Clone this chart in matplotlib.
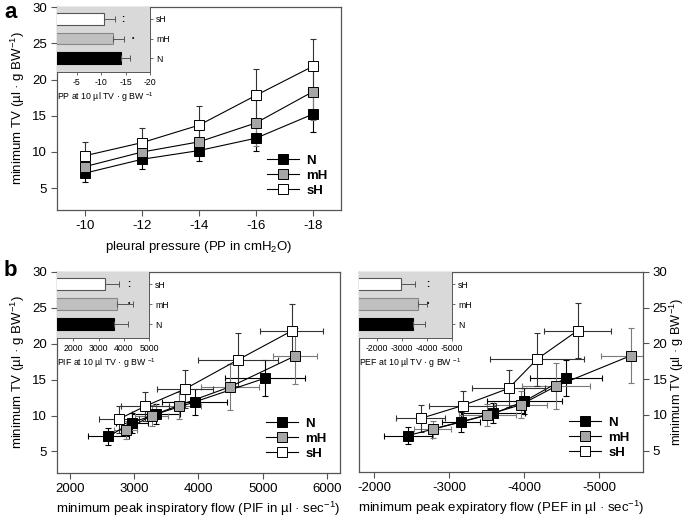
import numpy as np
import matplotlib
matplotlib.use('Agg')
import matplotlib.pyplot as plt
from matplotlib.lines import Line2D

plt.rcParams['font.family'] = ['Liberation Sans', 'DejaVu Sans']
plt.rcParams['axes.unicode_minus'] = False

# ---- data ----
groups = ['N', 'mH', 'sH']
pp = [-10, -12, -14, -16, -18]

tv_N = [7.1, 9.0, 10.2, 11.9, 15.2]
tv_mH = [8.0, 10.0, 11.4, 14.0, 18.3]
tv_sH = [9.5, 11.3, 13.7, 17.8, 21.8]
tv_err_N = [1.2, 1.4, 1.4, 1.8, 2.5]
tv_err_mH = [1.2, 1.5, 1.9, 3.2, 3.9]
tv_err_sH = [1.9, 2.0, 2.6, 3.7, 3.8]

pif_N = [2600, 2960, 3340, 3940, 5030]
pif_mH = [2870, 3270, 3690, 4490, 5500]
pif_sH = [2760, 3170, 3790, 4620, 5450]
pif_err_N = [320, 250, 370, 510, 620]
pif_err_mH = [180, 250, 350, 450, 340]
pif_err_sH = [310, 370, 430, 620, 490]

pef_N = [-2450, -3160, -3590, -4000, -4560]
pef_mH = [-2780, -3510, -3950, -4420, -5420]
pef_sH = [-2620, -3180, -3790, -4170, -4710]
pef_err_N = [320, 250, 420, 500, 480]
pef_err_mH = [250, 380, 350, 450, 400]
pef_err_sH = [330, 450, 480, 620, 450]

# inset bars (N, mH, sH)
pp10 = [-14.0, -12.4, -10.5]
pp10_err = [1.9, 2.2, 2.4]
pif10 = [3620, 3750, 3250]
pif10_err = [550, 620, 565]
pef10 = [-3450, -3630, -2980]
pef10_err = [490, 380, 560]
sig = ['', '*', '**']

face = {'N': 'black', 'mH': '#a6a6a6', 'sH': 'white'}
ecol = {'N': 'black', 'mH': '#7a7a7a', 'sH': '#333333'}
barface = ['black', '#c0c0c0', 'white']
baredge = ['black', '#888888', '#555555']
spine_col = '#555555'

W, H = 685, 517
fig = plt.figure(figsize=(W / 100, H / 100), dpi=100)


def frac(x0, x1, y0, y1):
    return [x0 / W, 1 - y1 / H, (x1 - x0) / W, (y1 - y0) / H]


def style_main(ax):
    for s in ax.spines.values():
        s.set_color(spine_col)
        s.set_linewidth(0.9)
    ax.tick_params(direction='out', length=4, width=0.8, labelsize=9.5, color=spine_col, pad=3)
    ax.set_ylim(2, 30)
    ax.set_yticks([5, 10, 15, 20, 25, 30])


def plot_series(ax, xs, ys, xerrs=None):
    for g, x, y, xe, ye in zip(groups, xs, ys,
                               xerrs if xerrs else [None] * 3,
                               [tv_err_N, tv_err_mH, tv_err_sH]):
        ax.errorbar(x, y, yerr=ye, xerr=xe, fmt='none', ecolor=ecol[g],
                    elinewidth=0.8, capsize=2.5, capthick=0.8, zorder=2)
    for g, x, y in zip(groups, xs, ys):
        ax.plot(x, y, '-', color='black', lw=0.8, marker='s', ms=6.8,
                mfc=face[g], mec='black', mew=0.7, zorder=3)


def legend(ax):
    hs = [Line2D([], [], color='black', lw=0.8, marker='s', ms=6.8,
                 mfc=face[g], mec='black', mew=0.7) for g in groups]
    ax.legend(hs, groups, loc='lower right', frameon=False,
              prop={'weight': 'bold', 'size': 9.5}, handlelength=2.4,
              handletextpad=0.6, labelspacing=0.2, borderaxespad=0.6)


def inset(rect, vals, errs, xlim, xticks, xlabel, star_x):
    ax = fig.add_axes(rect)
    ax.set_facecolor('#d9d9d9')
    ypos = [0, 1, 2]
    ax.barh(ypos, vals, height=0.58, color=barface, edgecolor=baredge, lw=0.8, zorder=2)
    for y, v, e in zip(ypos, vals, errs):
        xe = [[0], [e]] if v > 0 else [[e], [0]]
        ax.errorbar([v], [y], xerr=xe, fmt='none', ecolor='#555555',
                    elinewidth=0.7, capsize=2, capthick=0.7, zorder=3)
    for y, s in zip(ypos, sig):
        if s == '*':
            ax.text(star_x[1], y, '•', ha='center', va='center', fontsize=5)
        elif s == '**':
            ax.text(star_x[0], y, ':', ha='center', va='center', fontsize=7, fontweight='bold')
    ax.set_xlim(*xlim)
    ax.set_ylim(-0.7, 2.6)
    ax.set_xticks(xticks)
    ax.set_yticks(ypos)
    ax.set_yticklabels(groups)
    ax.yaxis.tick_right()
    ax.tick_params(direction='out', length=2.5, width=0.6, labelsize=6.3, color='#555555', pad=2)
    ax.set_xlabel(xlabel, fontsize=6.3, labelpad=2, loc='left')
    for s in ax.spines.values():
        s.set_visible(False)
    for k in ['right', 'bottom']:
        ax.spines[k].set_visible(True)
        ax.spines[k].set_color('#555555')
        ax.spines[k].set_linewidth(0.7)
    return ax


ylab = r'minimum TV (µl · g BW$^{\mathregular{-1}}$)'

# ---- panel a ----
axa = fig.add_axes(frac(57, 341, 7, 210))
style_main(axa)
plot_series(axa, [pp, pp, pp], [tv_N, tv_mH, tv_sH])
axa.set_xlim(-9, -19)
axa.set_xticks(pp)
axa.set_xlabel(r'pleural pressure (PP in cmH$_\mathregular{2}$O)', fontsize=9.5, labelpad=5)
axa.set_ylabel(ylab, fontsize=9.5, labelpad=4)
legend(axa)
inset(frac(57, 150, 7, 72), pp10, pp10_err, (-1, -20), [-5, -10, -15, -20],
      r'PP at 10 µl TV · g BW $^{\mathregular{-1}}$', (-14.5, -16.6))

# ---- panel b left ----
axb = fig.add_axes(frac(57, 340, 272, 473))
style_main(axb)
plot_series(axb, [pif_N, pif_mH, pif_sH], [tv_N, tv_mH, tv_sH],
            [pif_err_N, pif_err_mH, pif_err_sH])
axb.set_xlim(1800, 6200)
axb.set_xticks([2000, 3000, 4000, 5000, 6000])
axb.set_xlabel(r'minimum peak inspiratory flow (PIF in µl · sec$^{\mathregular{-1}}$)', fontsize=9.5, labelpad=4)
axb.set_ylabel(ylab, fontsize=9.5, labelpad=4)
legend(axb)
inset(frac(57, 149, 272, 338), pif10, pif10_err, (1350, 5000), [2000, 3000, 4000, 5000],
      r'PIF at 10 µl TV · g BW $^{\mathregular{-1}}$', (4200, 4200))

# ---- panel b right ----
axc = fig.add_axes(frac(359, 643, 272, 472))
style_main(axc)
plot_series(axc, [pef_N, pef_mH, pef_sH], [tv_N, tv_mH, tv_sH],
            [pef_err_N, pef_err_mH, pef_err_sH])
axc.set_xlim(-1800, -5580)
axc.set_xticks([-2000, -3000, -4000, -5000])
axc.yaxis.tick_right()
axc.yaxis.set_label_position('right')
axc.set_xlabel(r'minimum peak expiratory flow (PEF in µl · sec$^{\mathregular{-1}}$)', fontsize=9.5, labelpad=4)
axc.set_ylabel(ylab, fontsize=9.2, labelpad=0)
legend(axc)
inset(frac(359, 452, 272, 338), pef10, pef10_err, (-1300, -5000), [-2000, -3000, -4000, -5000],
      r'PEF at 10 µl TV · g BW $^{\mathregular{-1}}$', (-4050, -4050))

fig.text(4 / W, 1 - 12 / H, 'a', fontsize=16, fontweight='bold', va='center')
fig.text(4 / W, 1 - 270 / H, 'b', fontsize=16, fontweight='bold', va='center')

fig.savefig('out.png', dpi=100)
